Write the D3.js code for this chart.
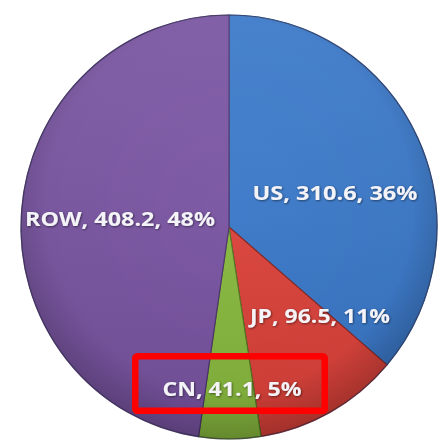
<!DOCTYPE html>
<html>
<head>
<meta charset="utf-8">
<script src="https://cdn.jsdelivr.net/npm/d3@7/dist/d3.min.js"></script>
<style>
  html, body { margin: 0; padding: 0; background: #ffffff; }
  svg { display: block; }
</style>
</head>
<body>
<svg id="chart" width="441" height="440"></svg>
<script>
// ---- data ----
const categories = ["US", "JP", "CN", "ROW"];
const values = [310.6, 96.5, 41.1, 408.2];
const percentLabels = ["36%", "11%", "5%", "48%"];
const highlighted = ["CN"];

// ---- layout / style (separate from data) ----
const W = 441, H = 440;
const cx = 229, cy = 227, rx = 208, ry = 212, R = 210;
const colors = { US: "#3a7bcf", JP: "#e2433b", CN: "#8cbf40", ROW: "#7c56a6" };
const edgeColors = { US: "#24508f", JP: "#8e2522", CN: "#587a22", ROW: "#4e3470" };
const labelOffset = { US: [106, -35], JP: [91, 88], CN: [3, 161], ROW: [-109, -9] };
const labelWidth = { US: 165, JP: 140, CN: 139, ROW: 190 };
const boxPad = { left: 96.75, top: 31.75, width: 189.5, height: 54.5 };

const svg = d3.select("#chart");
const defs = svg.append("defs");

// radial shading gradient (darker rim)
const rg = defs.append("radialGradient").attr("id", "rim")
  .attr("cx", "50%").attr("cy", "45%").attr("r", "55%");
rg.append("stop").attr("offset", "0%").attr("stop-color", "#000").attr("stop-opacity", 0);
rg.append("stop").attr("offset", "80%").attr("stop-color", "#000").attr("stop-opacity", 0.03);
rg.append("stop").attr("offset", "100%").attr("stop-color", "#000").attr("stop-opacity", 0.22);

// vertical light gradient
const lg = defs.append("linearGradient").attr("id", "light")
  .attr("x1", 0).attr("y1", 0).attr("x2", 0).attr("y2", 1);
lg.append("stop").attr("offset", "0%").attr("stop-color", "#fff").attr("stop-opacity", 0.08);
lg.append("stop").attr("offset", "100%").attr("stop-color", "#000").attr("stop-opacity", 0.08);

const sh = defs.append("filter").attr("id", "tshadow")
  .attr("x", "-10%").attr("y", "-30%").attr("width", "120%").attr("height", "160%");
sh.append("feDropShadow").attr("dx", 0.8).attr("dy", 0.8).attr("stdDeviation", 0.8)
  .attr("flood-color", "#000").attr("flood-opacity", 0.55);

const data = categories.map((c, i) => ({ name: c, value: values[i], pct: percentLabels[i] }));

const pie = d3.pie().sort(null).value(d => d.value);
const arc = d3.arc().innerRadius(0).outerRadius(R);
const arcs = pie(data);

const g = svg.append("g")
  .attr("transform", `translate(${cx},${cy}) scale(${rx / R},${ry / R})`);

g.selectAll("path.slice")
  .data(arcs)
  .join("path")
  .attr("class", "slice")
  .attr("d", arc)
  .attr("fill", d => colors[d.data.name])
  .attr("stroke", d => edgeColors[d.data.name])
  .attr("stroke-width", 1.2)
  .attr("stroke-linejoin", "round");

// shading overlays
g.append("circle").attr("r", R).attr("fill", "url(#light)");
g.append("circle").attr("r", R).attr("fill", "url(#rim)");
g.append("circle").attr("r", R).attr("fill", "none")
  .attr("stroke", "#3a3a5a").attr("stroke-opacity", 0.5).attr("stroke-width", 1.2);

// labels
const labels = svg.append("g").attr("transform", `translate(${cx},${cy})`);
labels.selectAll("text")
  .data(arcs)
  .join("text")
  .attr("x", d => labelOffset[d.data.name][0])
  .attr("y", d => labelOffset[d.data.name][1])
  .attr("text-anchor", "middle")
  .attr("dominant-baseline", "central")
  .attr("font-family", "'Open Sans', 'Noto Sans', sans-serif")
  .attr("font-weight", "bold")
  .attr("font-size", 20)
  .attr("textLength", d => labelWidth[d.data.name])
  .attr("lengthAdjust", "spacingAndGlyphs")
  .attr("fill", "#f3f3f8")
  .attr("filter", "url(#tshadow)")
  .text(d => `${d.data.name}, ${d3.format(".1f")(d.data.value)}, ${d.data.pct}`);

// highlight box around highlighted label(s)
labels.selectAll("rect.hl")
  .data(arcs.filter(d => highlighted.includes(d.data.name)))
  .join("rect")
  .attr("class", "hl")
  .attr("x", d => labelOffset[d.data.name][0] - boxPad.left)
  .attr("y", d => labelOffset[d.data.name][1] - boxPad.top)
  .attr("width", boxPad.width)
  .attr("height", boxPad.height)
  .attr("rx", 2)
  .attr("fill", "none")
  .attr("stroke", "#ff0000")
  .attr("stroke-width", 6.5);
</script>
</body>
</html>
